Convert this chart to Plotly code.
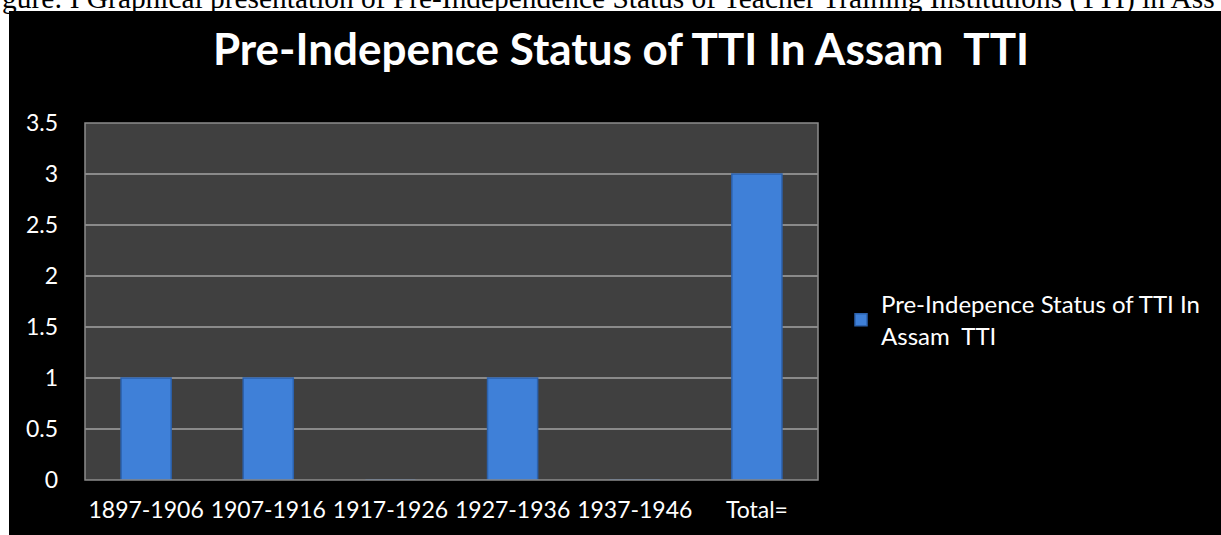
import plotly.graph_objects as go

categories = ["1897-1906", "1907-1916", "1917-1926", "1927-1936", "1937-1946", "Total="]
values = [1, 1, 0, 1, 0, 3]
series_name = "Pre-Indepence Status of TTI In<br>Assam  TTI"
title_text = "Pre-Indepence Status of TTI In Assam  TTI"
caption_text = "gure: I Graphical presentation of Pre-Independence Status of Teacher Training Institutions (TTI) in Ass"
y_ticks = [0, 0.5, 1, 1.5, 2, 2.5, 3, 3.5]

W, H = 1221, 535
ML, MR, MT, MB = 85, 403, 123, 55
PW, PH = W - ML - MR, H - MT - MB

def px_x(p):  # page pixel -> paper x
    return (p - ML) / PW

def px_y(p):  # page pixel -> paper y
    return (H - MB - p) / PH

FONT = "Lato"

fig = go.Figure()
fig.add_trace(go.Bar(
    x=categories, y=values, name=series_name,
    marker=dict(color="#3f80d8", line=dict(color="#2c62ae", width=1.5)),
    width=0.41, showlegend=True,
))

shapes = [
    dict(type="rect", xref="paper", yref="paper", x0=px_x(0), x1=px_x(W), y0=px_y(0), y1=px_y(11),
         fillcolor="white", line=dict(width=0), layer="below"),
    dict(type="rect", xref="paper", yref="paper", x0=px_x(0), x1=px_x(9), y0=px_y(0), y1=px_y(H),
         fillcolor="white", line=dict(width=0), layer="below"),
    dict(type="rect", xref="paper", yref="paper", x0=0, x1=1, y0=0, y1=1,
         fillcolor="rgba(0,0,0,0)", line=dict(color="#8c8c8c", width=1.5), layer="above"),
]

fig.update_layout(
    width=W, height=H,
    margin=dict(l=ML, r=MR, t=MT, b=MB, pad=0, autoexpand=False),
    paper_bgcolor="black", plot_bgcolor="#404040",
    font=dict(family=FONT, color="white", size=20),
    title=dict(text="<b>" + title_text + "</b>", x=621 / W, xanchor="center",
               y=1 - 50 / H, yanchor="middle",
               font=dict(family=FONT, size=44, color="white"), automargin=False),
    xaxis=dict(showgrid=False, tickfont=dict(size=23, color="white"), ticks="", showline=False,
               ticklabelstandoff=14, automargin=False),
    yaxis=dict(range=[0, 3.5], tickvals=y_ticks, ticktext=[f"{v:g}" for v in y_ticks],
               gridcolor="#8a8a8a", gridwidth=1.5, zeroline=False, showline=False,
               tickfont=dict(size=23, color="white"), ticks="", ticklabelstandoff=26, automargin=False),
    legend=dict(x=px_x(841), y=px_y(282), xanchor="left", yanchor="top",
                font=dict(size=24, color="white"), bgcolor="rgba(0,0,0,0)", itemwidth=30),
    bargap=0.59,
    shapes=shapes,
    annotations=[dict(text=caption_text, xref="paper", yref="paper", x=px_x(0), y=px_y(17),
                      xanchor="left", yanchor="bottom", showarrow=False,
                      font=dict(family="Liberation Serif", size=29.4, color="black"))],
)

fig.write_html("out.html", post_script="document.body.style.margin='0';",
               config={"displayModeBar": False})
